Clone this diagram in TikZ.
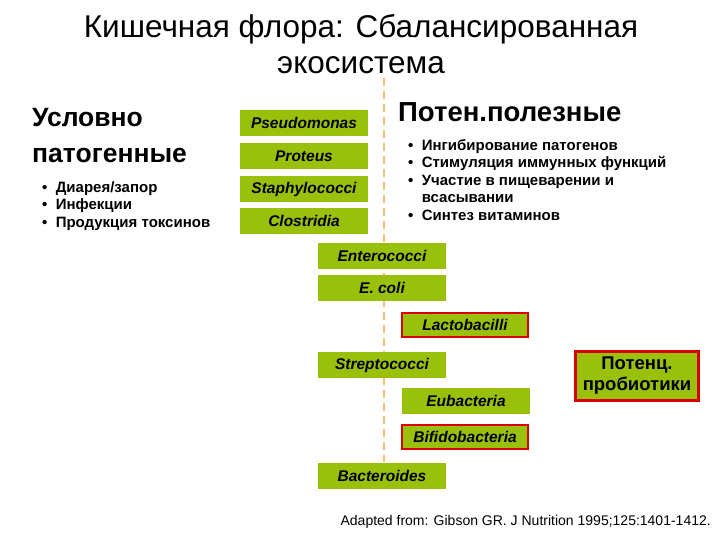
\documentclass[tikz,border=0pt]{standalone}
\usepackage{fontspec}
\setmainfont{Liberation Sans}
\begin{document}
\begin{tikzpicture}[x=1pt,y=-1pt,
 bac/.style={fill=lgreen,draw=none,minimum width=128pt,minimum height=26pt,font=\fontsize{15.5}{17}\selectfont\bfseries\itshape,inner sep=0pt},
 redb/.style={bac,draw=red!85!black,line width=2.2pt,minimum width=126pt,minimum height=24pt},
 bl/.style={font=\fontsize{15}{17.5}\selectfont\bfseries,align=left,anchor=north west,inner sep=0pt}]
\definecolor{lgreen}{HTML}{99C00A}
\definecolor{dashcol}{HTML}{F5C07A}
\useasboundingbox (0,0) rectangle (720,540);
\node[font=\fontsize{31.5}{36}\selectfont,align=center] (title) at (361,44) {Кишечная флора: Сбалансированная\\экосистема};
\draw[dashcol,line width=2pt,dash pattern=on 8pt off 5pt] (384,78) coordinate (dtop) -- (384,462) coordinate (dbot);
\node[font=\fontsize{26.5}{36}\selectfont\bfseries,align=left,anchor=north west,inner sep=0pt] (up) at (32,108) {Условно\\патогенные};
\node[bl] (ul) at (42,181) {\textbullet\ \ Диарея/запор\\\textbullet\ \ Инфекции\\\textbullet\ \ Продукция токсинов};
\node[font=\fontsize{27.5}{31}\selectfont\bfseries,anchor=north west,inner sep=0pt] (pp) at (398,102) {Потен.полезные};
\node[bl] (pl) at (408,139) {\textbullet\ \ Ингибирование патогенов\\\textbullet\ \ Стимуляция иммунных функций\\\textbullet\ \ Участие в пищеварении и\\\phantom{\textbullet\ \ }всасывании\\\textbullet\ \ Синтез витаминов};
\node[bac] (ps) at (304,123) {Pseudomonas};
\node[bac] (pr) at (304,156) {Proteus};
\node[bac] (st) at (304,189) {Staphylococci};
\node[bac] (cl) at (304,221) {Clostridia};
\node[bac] (en) at (382,256) {Enterococci};
\node[bac] (ec) at (382,288) {E. coli};
\node[redb] (la) at (465,325) {Lactobacilli};
\node[bac] (sr) at (382,365) {Streptococci};
\node[bac] (eu) at (466,401) {Eubacteria};
\node[redb] (bi) at (465,437) {Bifidobacteria};
\node[bac] (ba) at (382,476) {Bacteroides};
\node[redb,minimum width=123pt,minimum height=49pt,font=\fontsize{18.5}{21}\selectfont\bfseries,align=center] (pb) at (637,376) {Потенц.\\пробиотики};
\node[font=\fontsize{14}{16}\selectfont,anchor=east,inner sep=0pt] (src) at (711,522) {Adapted from: Gibson GR. J Nutrition 1995;125:1401-1412.};
\end{tikzpicture}
\end{document}
